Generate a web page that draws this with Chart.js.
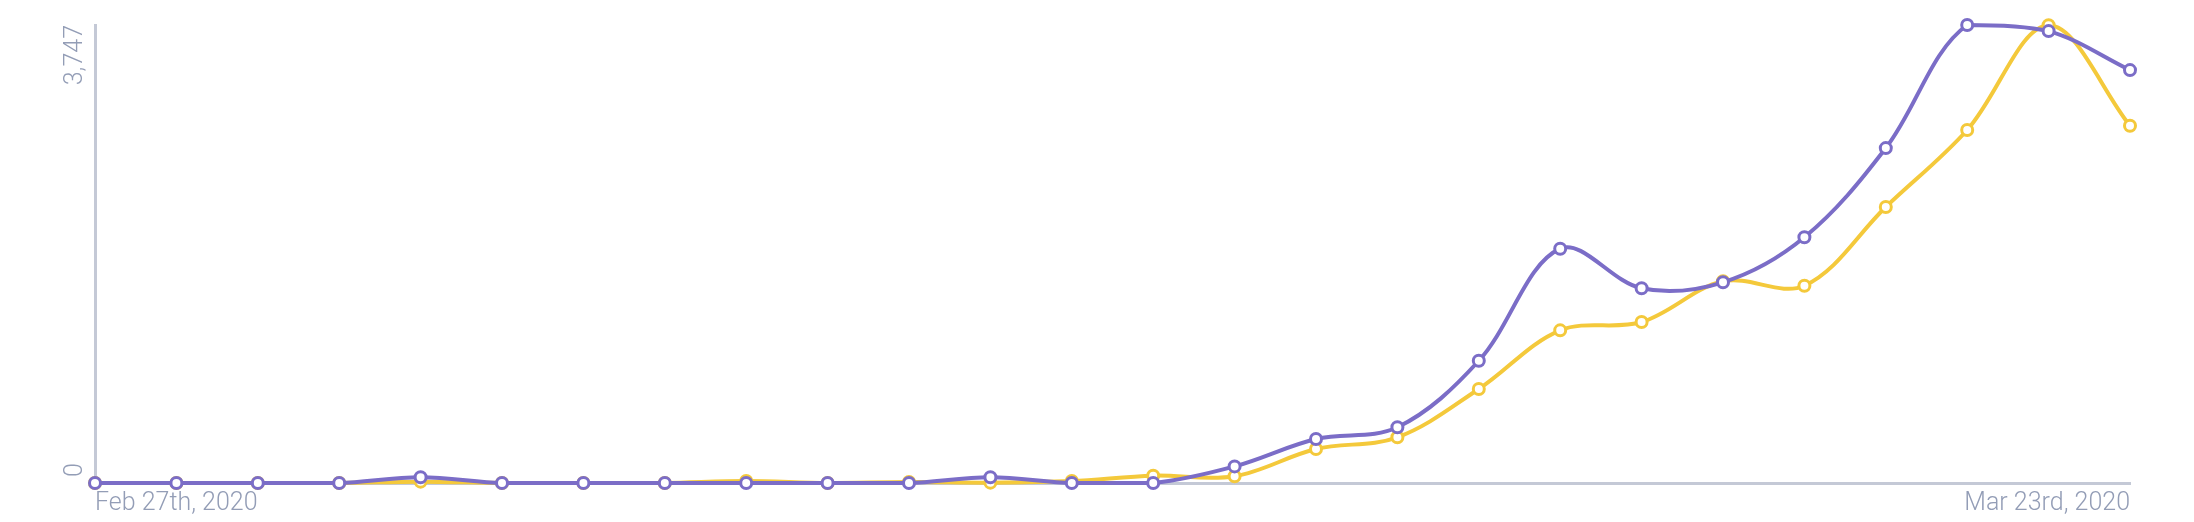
<!DOCTYPE html>
<html>
<head>
<meta charset="utf-8">
<script src="https://cdn.jsdelivr.net/npm/chart.js@4.4.1/dist/chart.umd.min.js"></script>
<style>
  html, body { margin: 0; padding: 0; background: #fff; }
  #wrap { width: 2194px; height: 522px; }
</style>
</head>
<body>
<div id="wrap"><canvas id="trend-chart" width="2194" height="522"></canvas></div>
<script>
// daily values, Feb 27th - Mar 23rd 2020
var dayLabels = [
	'Feb 27th, 2020', 'Feb 28th, 2020', 'Feb 29th, 2020',
	'Mar 1st, 2020', 'Mar 2nd, 2020', 'Mar 3rd, 2020', 'Mar 4th, 2020',
	'Mar 5th, 2020', 'Mar 6th, 2020', 'Mar 7th, 2020', 'Mar 8th, 2020',
	'Mar 9th, 2020', 'Mar 10th, 2020', 'Mar 11th, 2020', 'Mar 12th, 2020',
	'Mar 13th, 2020', 'Mar 14th, 2020', 'Mar 15th, 2020', 'Mar 16th, 2020',
	'Mar 17th, 2020', 'Mar 18th, 2020', 'Mar 19th, 2020', 'Mar 20th, 2020',
	'Mar 21st, 2020', 'Mar 22nd, 2020', 'Mar 23rd, 2020'
];

var purpleValues = [
	0, 0, 0, 0, 47, 0, 0, 0, 0, 0, 0, 47, 0,
	0, 136, 360, 456, 1000, 1917, 1593, 1642, 2010, 2740, 3747, 3697, 3378
];

var yellowValues = [
	0, 0, 0, 0, 11, 0, 0, 0, 16, 0, 8, 3, 16,
	60, 55, 278, 374, 769, 1249, 1317, 1650, 1614, 2258, 2888, 3745, 2923
];

var yTickValues = [0, 3747];

var axisColor = '#c4c9d6';
var labelColor = '#939db6';
var labelFont = { family: 'Roboto', size: 25, weight: '300' };

// rotated y labels, first one sits above the zero line, last one hangs from the top
var yLabelPlugin = {
	id: 'yLabels',
	afterDraw: function(chart) {
		var ctx = chart.ctx;
		var y = chart.scales.y;
		ctx.save();
		ctx.font = '300 25px Roboto';
		ctx.fillStyle = labelColor;
		ctx.textBaseline = 'middle';
		yTickValues.forEach(function(v, i) {
			var py = y.getPixelForValue(v);
			ctx.save();
			ctx.translate(76, i === 0 ? py - 6 : py);
			ctx.rotate(-Math.PI / 2);
			ctx.textAlign = i === 0 ? 'left' : 'right';
			ctx.fillText(v.toLocaleString('en-US'), 0, 0);
			ctx.restore();
		});
		ctx.restore();
	}
};

window.addEventListener('load', function() {
	var ctx = document.getElementById('trend-chart').getContext('2d');
	new Chart(ctx, {
		type: 'line',
		data: {
			labels: dayLabels,
			datasets: [{
				data: purpleValues,
				borderColor: '#7b6dc7',
				borderWidth: 4,
				pointBackgroundColor: '#fff',
				pointBorderColor: '#7b6dc7',
				pointBorderWidth: 3,
				pointRadius: 5.5,
				tension: 0.35,
				clip: false
			}, {
				data: yellowValues,
				borderColor: '#f4c93b',
				borderWidth: 4,
				pointBackgroundColor: '#fff',
				pointBorderColor: '#f4c93b',
				pointBorderWidth: 3,
				pointRadius: 5.5,
				tension: 0.35,
				clip: false
			}]
		},
		options: {
			responsive: false,
			animation: false,
			layout: { padding: { top: 25, right: 64, left: 0, bottom: 0 } },
			plugins: {
				legend: { display: false },
				tooltip: { enabled: false }
			},
			scales: {
				x: {
					grid: { display: false, drawTicks: false },
					border: { display: true, color: axisColor, width: 3 },
					ticks: {
						autoSkip: false,
						maxRotation: 0,
						align: 'inner',
						padding: 6,
						color: labelColor,
						font: labelFont,
						callback: function(val, idx) {
							if (idx === 0 || idx === dayLabels.length - 1) return dayLabels[idx];
							return '';
						}
					},
					afterFit: function(s) { s.height = 39; }
				},
				y: {
					min: 0,
					max: 3747,
					grid: { display: false, drawTicks: false },
					border: { display: true, color: axisColor, width: 3 },
					ticks: { display: false },
					afterFit: function(s) { s.width = 95; }
				}
			}
		},
		plugins: [yLabelPlugin]
	});
});
</script>
</body>
</html>
